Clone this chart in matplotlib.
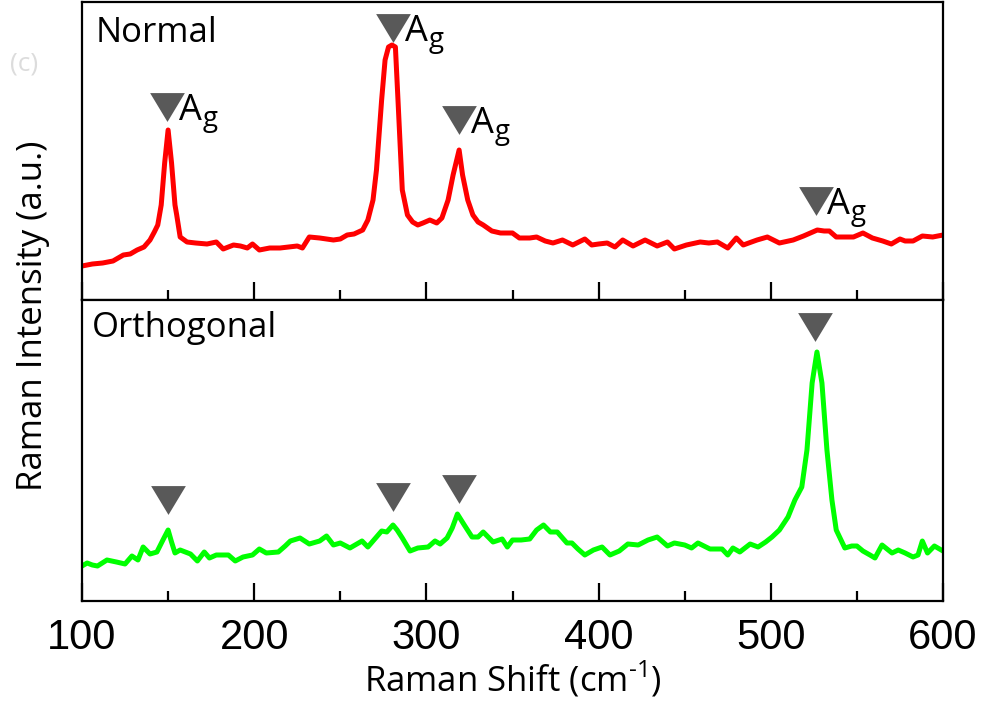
import numpy as np
from matplotlib import pyplot as plt

# wavenumber (cm-1) and intensity, arbitrary units
normal_x = [100, 106, 112, 118, 124, 128, 132, 136, 139.5, 142, 144, 146, 148, 150, 152, 154, 155, 157,
            161, 166, 172.6, 178, 182, 188, 192, 196, 199, 203, 209, 215, 220, 225, 228, 232, 238, 242,
            246, 250, 254, 258, 263, 266, 269, 271, 274, 276, 278, 280, 282, 283.5, 286, 289, 292, 295,
            298, 302, 306, 309, 312.6, 315.5, 319, 321, 324, 327, 330, 333, 338, 343, 350, 354, 360, 364,
            369, 373.5, 379, 385, 392, 396, 400, 405, 409.5, 414, 420, 427, 434, 440, 444, 451, 459, 464,
            469, 475, 480, 484, 492, 498, 505, 513, 519, 523, 527, 531, 534, 538, 543, 548, 553.5, 559,
            565, 570, 575, 578, 582.6, 588, 594, 600]
normal_y = [34, 36, 37, 39, 45, 46, 50, 53, 60, 68, 75, 95, 137, 170, 137, 95, 85, 63,
            58, 57, 56, 58, 51, 55, 54, 52, 56, 50, 52, 52, 53, 54, 52, 63, 62, 61,
            60, 61, 65, 66, 70, 80, 100, 130, 200, 240, 253, 255, 253, 200, 110, 85, 78, 75,
            77, 80, 77, 82, 100, 125, 150, 125, 100, 85, 78, 75, 69, 67, 67, 62, 62, 63,
            59, 57, 60, 55, 61, 55, 56, 57, 53, 60, 54, 60, 54, 58, 51, 55, 58, 57,
            58, 52, 62, 55, 60, 63, 57, 60, 64, 67, 70, 69, 69, 63, 63, 63, 67, 62,
            59, 56, 61, 59, 59, 64, 63, 65]

ortho_x = [100, 103, 106, 109, 114.5, 120, 125, 129, 132.5, 135.5, 139.5, 143.5, 147, 150, 152, 154, 157,
           163, 167, 171, 174, 178, 185, 189, 193.5, 199, 203, 207, 214, 218, 221, 226.6, 232, 238, 242,
           246, 250, 255.6, 262.6, 266, 270, 274, 277, 280.6, 283, 286, 290.5, 295, 301, 305, 308, 312,
           315, 318, 322, 326.5, 330, 333, 338.7, 344, 347, 350, 355, 360, 364, 368, 372, 376, 381.6,
           384.5, 388, 392, 397, 402, 406.6, 412, 417, 423, 428.7, 434, 440, 444, 450, 454, 457.7, 464.7,
           471.7, 475, 478, 482, 488, 492.6, 497, 500.7, 505, 510, 514, 518, 521, 524, 526.8, 529.7,
           532.6, 535.5, 538, 543, 547, 550, 553.5, 557.6, 560.5, 564.6, 570.4, 574, 578, 582.6, 585.5,
           588, 591, 595, 600]
ortho_y = [35, 38, 36, 35, 41, 39, 37, 45, 41, 54, 47, 49, 61, 71, 59, 48, 51,
           47, 40, 49, 43, 46, 46, 40, 44, 46, 52, 48, 49, 55, 60, 63, 57, 60, 65,
           56, 58, 53, 60, 54, 62, 70, 69, 76, 71, 63, 50, 53, 54, 60, 57, 63,
           73, 87, 76, 64, 64, 69, 59, 62, 54, 61, 61, 62, 71, 76, 69, 69, 58,
           58, 52, 46, 51, 54, 46, 50, 57, 56, 61, 64, 55, 58, 56, 53, 58, 52,
           52, 46, 53, 49, 57, 54, 59, 64, 71, 84, 101, 114, 151, 218, 249, 218,
           151, 101, 71, 53, 55, 55, 50, 46, 43, 56, 48, 51, 48, 44, 46,
           60, 48, 55, 50]

# triangle marks: position and height in each panel
normal_marks_x = [149.5, 280.6, 319, 526]
normal_marks_y = [193, 272, 180, 99]
ortho_marks_x = [149.7, 280.6, 319, 525.7]
ortho_marks_y = [101, 104, 112, 274]

xticks = [100, 200, 300, 400, 500, 600]

plt.rcParams['font.family'] = ['Open Sans', 'DejaVu Sans']
plt.rcParams['mathtext.fontset'] = 'custom'
plt.rcParams['mathtext.rm'] = 'Open Sans'

fig = plt.figure(figsize=(9.83, 7.11), dpi=100)
ax1 = fig.add_axes([82/983, 1 - 300/711, 861/983, 298/711])
ax2 = fig.add_axes([82/983, 1 - 601/711, 861/983, 301/711], sharex=ax1)

ax1.plot(normal_x, normal_y, color='#ff0000', lw=3.6, solid_joinstyle='round')
ax2.plot(ortho_x, ortho_y, color='#00ff00', lw=3.6, solid_joinstyle='round')
ax1.set_ylim(0, 298)
ax2.set_ylim(0, 301)
ax1.set_xlim(100, 600)

tri = [(-1, 0.83), (1, 0.83), (0, -0.83)]
for ax, mx, my in [(ax1, normal_marks_x, normal_marks_y), (ax2, ortho_marks_x, ortho_marks_y)]:
    ax.plot(mx, my, ls='none', marker=tri, markersize=25, color='#595959', markeredgewidth=0)

# A with a big subscript g, as in the original
for x, y in zip(normal_marks_x, normal_marks_y):
    ax1.annotate('A', (x, y), xytext=(8.5, -9.5), textcoords='offset points',
                 ha='left', va='baseline', fontsize=26)
    ax1.annotate('g', (x, y), xytext=(25.5, -14), textcoords='offset points',
                 ha='left', va='baseline', fontsize=20)

ax1.text(0.016, 0.866, 'Normal', transform=ax1.transAxes, fontsize=25, va='baseline')
ax2.text(0.012, 0.877, 'Orthogonal', transform=ax2.transAxes, fontsize=25, va='baseline')

for ax in (ax1, ax2):
    for s in ax.spines.values():
        s.set_linewidth(1.6)
    ax.set_yticks([])
    ax.set_xticks(xticks)
    ax.set_xticks(np.arange(150, 600, 100), minor=True)
    ax.tick_params(axis='x', which='major', direction='in', length=13, width=1.6, pad=12)
    ax.tick_params(axis='x', which='minor', direction='in', length=7, width=1.6)
ax1.tick_params(axis='x', labelbottom=False)
for lab in ax2.get_xticklabels():
    lab.set_fontfamily('Liberation Sans')
    lab.set_fontsize(30)

ax2.set_xlabel(r'Raman Shift (cm$^{\text{-}1}$)', fontsize=25, labelpad=1)
fig.text(33/983, 1 - 316/711, 'Raman Intensity (a.u.)', rotation=90, ha='center', va='center', fontsize=25)
fig.text(24/983, 1 - 64/711, '(c)', ha='center', va='center', fontsize=19, color='#dcdcdc')

fig.savefig('out.png', dpi=100)
